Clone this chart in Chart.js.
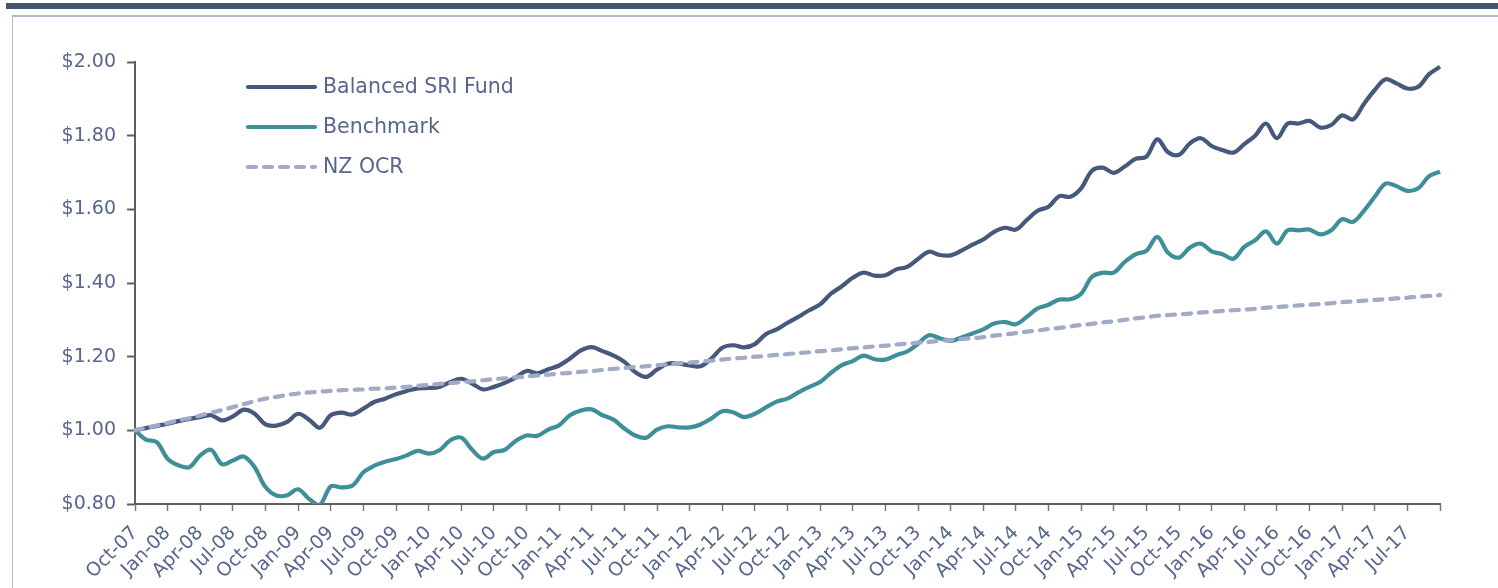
<!DOCTYPE html>
<html>
<head>
<meta charset="utf-8">
<script src="https://cdn.jsdelivr.net/npm/chart.js@4.4.1/dist/chart.umd.min.js"></script>
<style>
  html, body { margin: 0; padding: 0; background: #ffffff; }
  #wrap { position: relative; width: 1498px; height: 588px; overflow: hidden; }
  #band { position: absolute; left: 6px; right: 0; top: 3px; height: 6px; background: #46566F; }
  #topline { position: absolute; left: 12px; right: 0; top: 15px; height: 2px; background: #AEB9CF; }
  #leftline { position: absolute; left: 12px; top: 15px; bottom: 0; width: 1px; background: #AEB9CF; }
  #c { position: absolute; left: 0; top: 0; }
</style>
</head>
<body>
<div id="wrap">
  <div id="band"></div>
  <div id="topline"></div>
  <div id="leftline"></div>
  <canvas id="c" width="1498" height="588"></canvas>
</div>
<script>
// Categories: monthly observations, Oct-07 .. Oct-17
const categories = [
  'Oct-07','Nov-07','Dec-07',
  'Jan-08','Feb-08','Mar-08','Apr-08','May-08','Jun-08','Jul-08','Aug-08','Sep-08','Oct-08','Nov-08','Dec-08',
  'Jan-09','Feb-09','Mar-09','Apr-09','May-09','Jun-09','Jul-09','Aug-09','Sep-09','Oct-09','Nov-09','Dec-09',
  'Jan-10','Feb-10','Mar-10','Apr-10','May-10','Jun-10','Jul-10','Aug-10','Sep-10','Oct-10','Nov-10','Dec-10',
  'Jan-11','Feb-11','Mar-11','Apr-11','May-11','Jun-11','Jul-11','Aug-11','Sep-11','Oct-11','Nov-11','Dec-11',
  'Jan-12','Feb-12','Mar-12','Apr-12','May-12','Jun-12','Jul-12','Aug-12','Sep-12','Oct-12','Nov-12','Dec-12',
  'Jan-13','Feb-13','Mar-13','Apr-13','May-13','Jun-13','Jul-13','Aug-13','Sep-13','Oct-13','Nov-13','Dec-13',
  'Jan-14','Feb-14','Mar-14','Apr-14','May-14','Jun-14','Jul-14','Aug-14','Sep-14','Oct-14','Nov-14','Dec-14',
  'Jan-15','Feb-15','Mar-15','Apr-15','May-15','Jun-15','Jul-15','Aug-15','Sep-15','Oct-15','Nov-15','Dec-15',
  'Jan-16','Feb-16','Mar-16','Apr-16','May-16','Jun-16','Jul-16','Aug-16','Sep-16','Oct-16','Nov-16','Dec-16',
  'Jan-17','Feb-17','Mar-17','Apr-17','May-17','Jun-17','Jul-17','Aug-17','Sep-17','Oct-17'
];

// Series names
const seriesNames = ['Balanced SRI Fund', 'Benchmark', 'NZ OCR'];

// Growth of $1 — Balanced SRI Fund
const fundValues = [
  1.000,1.006,1.012,1.018,1.025,1.031,1.036,1.041,1.027,1.038,1.056,1.045,1.016,1.013,1.023,1.045,1.029,1.007,1.041,1.048,1.043,1.059,1.077,1.086,1.098,
  1.107,1.114,1.115,1.118,1.131,1.140,1.127,1.111,1.118,1.129,1.143,1.161,1.155,1.166,1.176,1.195,1.217,1.226,1.215,1.203,1.186,1.158,1.145,1.165,
  1.181,1.181,1.176,1.174,1.195,1.224,1.231,1.225,1.234,1.261,1.274,1.292,1.308,1.326,1.342,1.371,1.391,1.414,1.428,1.420,1.421,1.437,1.444,1.465,
  1.485,1.476,1.475,1.488,1.504,1.518,1.539,1.550,1.545,1.571,1.596,1.607,1.636,1.634,1.657,1.705,1.713,1.699,1.716,1.737,1.743,1.790,1.755,1.748,
  1.779,1.793,1.772,1.761,1.754,1.777,1.800,1.833,1.793,1.833,1.833,1.840,1.822,1.829,1.855,1.844,1.886,1.924,1.953,1.942,1.928,1.933,1.967,1.987
];

// Growth of $1 — Benchmark
const benchmarkValues = [
  1.000,0.975,0.968,0.923,0.905,0.900,0.932,0.947,0.908,0.918,0.929,0.900,0.846,0.823,0.824,0.840,0.814,0.798,0.848,0.845,0.850,0.886,0.904,0.915,0.922,
  0.932,0.944,0.937,0.946,0.973,0.980,0.947,0.923,0.941,0.947,0.971,0.986,0.985,1.002,1.014,1.041,1.054,1.057,1.041,1.029,1.005,0.986,0.980,1.002,
  1.011,1.008,1.008,1.016,1.032,1.052,1.049,1.036,1.045,1.062,1.078,1.086,1.103,1.118,1.131,1.156,1.177,1.188,1.203,1.193,1.192,1.204,1.214,1.235,
  1.258,1.250,1.243,1.252,1.263,1.274,1.290,1.294,1.288,1.308,1.331,1.341,1.355,1.356,1.371,1.417,1.428,1.428,1.457,1.478,1.487,1.525,1.482,1.469,
  1.496,1.507,1.486,1.478,1.466,1.498,1.516,1.540,1.507,1.543,1.543,1.545,1.532,1.543,1.573,1.566,1.596,1.634,1.670,1.663,1.650,1.657,1.690,1.702
];

// Growth of $1 — NZ OCR
const ocrValues = [
  1.000,1.007,1.013,1.020,1.027,1.033,1.040,1.048,1.055,1.063,1.071,1.079,1.086,1.091,1.096,1.100,1.103,1.105,1.107,1.109,1.110,1.111,1.113,1.114,1.116,
  1.118,1.121,1.123,1.126,1.128,1.131,1.133,1.136,1.139,1.141,1.144,1.146,1.149,1.151,1.154,1.156,1.159,1.161,1.164,1.167,1.169,1.172,1.174,1.177,
  1.179,1.182,1.184,1.187,1.189,1.192,1.195,1.197,1.200,1.202,1.205,1.207,1.210,1.212,1.215,1.217,1.220,1.223,1.225,1.228,1.230,1.233,1.235,1.238,
  1.240,1.243,1.245,1.248,1.250,1.253,
  1.257,1.260,1.264,1.268,1.271,1.275,1.278,1.282,1.286,1.289,1.293,1.296,1.300,1.304,1.307,1.311,
  1.313,1.315,1.317,1.320,1.322,1.324,1.326,1.328,1.330,1.333,1.335,1.337,1.339,1.341,1.343,1.345,1.348,1.350,1.352,1.354,1.356,1.358,1.360,1.363,1.365,1.367
];

// Y axis tick values
const yTickValues = [0.8, 1.0, 1.2, 1.4, 1.6, 1.8, 2.0];

const TEXT = '#56668C';
const AXIS = '#5F5F5F';
const FONT = "'DejaVu Sans', sans-serif";

const legendPlugin = {
  id: 'insideLegend',
  afterDatasetsDraw(chart) {
    const ctx = chart.ctx;
    const a = chart.chartArea;
    chart.data.datasets.forEach((ds, i) => {
      const y = a.top + 25 + 40 * i;
      ctx.save();
      ctx.strokeStyle = ds.borderColor;
      ctx.lineWidth = ds.borderWidth;
      ctx.lineCap = 'round';
      ctx.setLineDash(ds.borderDash || []);
      ctx.beginPath();
      ctx.moveTo(a.left + 113, y);
      ctx.lineTo(a.left + 180, y);
      ctx.stroke();
      ctx.setLineDash([]);
      ctx.fillStyle = TEXT;
      ctx.font = "20.5px " + FONT;
      ctx.textBaseline = 'middle';
      ctx.textAlign = 'left';
      ctx.fillText(ds.label, a.left + 188, y + 1);
      ctx.restore();
    });
  }
};

new Chart(document.getElementById('c'), {
  type: 'line',
  data: {
    labels: categories,
    datasets: [
      { label: seriesNames[0], data: fundValues, borderColor: '#46587B', borderWidth: 4.2, order: 3 },
      { label: seriesNames[1], data: benchmarkValues, borderColor: '#3F8F99', borderWidth: 4.2, order: 2 },
      { label: seriesNames[2], data: ocrValues, borderColor: '#A2ABC6', borderWidth: 4.2, borderDash: [8, 8], borderCapStyle: 'round', order: 1 }
    ]
  },
  options: {
    responsive: false,
    animation: false,
    devicePixelRatio: 1,
    layout: { padding: { left: 0, right: 58, top: 62, bottom: 0 } },
    elements: {
      point: { radius: 0, hoverRadius: 0 },
      line: { tension: 0.35, fill: false, borderJoinStyle: 'round' }
    },
    plugins: {
      legend: { display: false },
      tooltip: { enabled: false }
    },
    scales: {
      x: {
        type: 'category',
        offset: false,
        border: { display: true, color: AXIS, width: 2 },
        grid: { drawOnChartArea: false, drawTicks: true, tickLength: 7, tickColor: '#7A7A7A', tickWidth: 1.5, color: '#7A7A7A' },
        ticks: {
          autoSkip: false,
          maxRotation: 45,
          minRotation: 45,
          padding: 11,
          color: TEXT,
          font: { family: FONT, size: 19 },
          callback: function (value, index) {
            if (index % 3 !== 0) return null;
            if (index === categories.length - 1) return '';
            return categories[index];
          }
        },
        afterFit: (scale) => { scale.height = 84; }
      },
      y: {
        min: 0.8,
        max: 2.0,
        border: { display: true, color: AXIS, width: 2 },
        grid: { drawOnChartArea: false, drawTicks: true, tickLength: 8, tickColor: AXIS, tickWidth: 2, color: AXIS },
        afterBuildTicks: (scale) => { scale.ticks = yTickValues.map(v => ({ value: v })); },
        ticks: {
          padding: 11,
          color: TEXT,
          font: { family: FONT, size: 19 },
          callback: (v) => '$' + Number(v).toFixed(2)
        },
        afterFit: (scale) => { scale.width = 135; }
      }
    }
  },
  plugins: [legendPlugin]
});
</script>
</body>
</html>
